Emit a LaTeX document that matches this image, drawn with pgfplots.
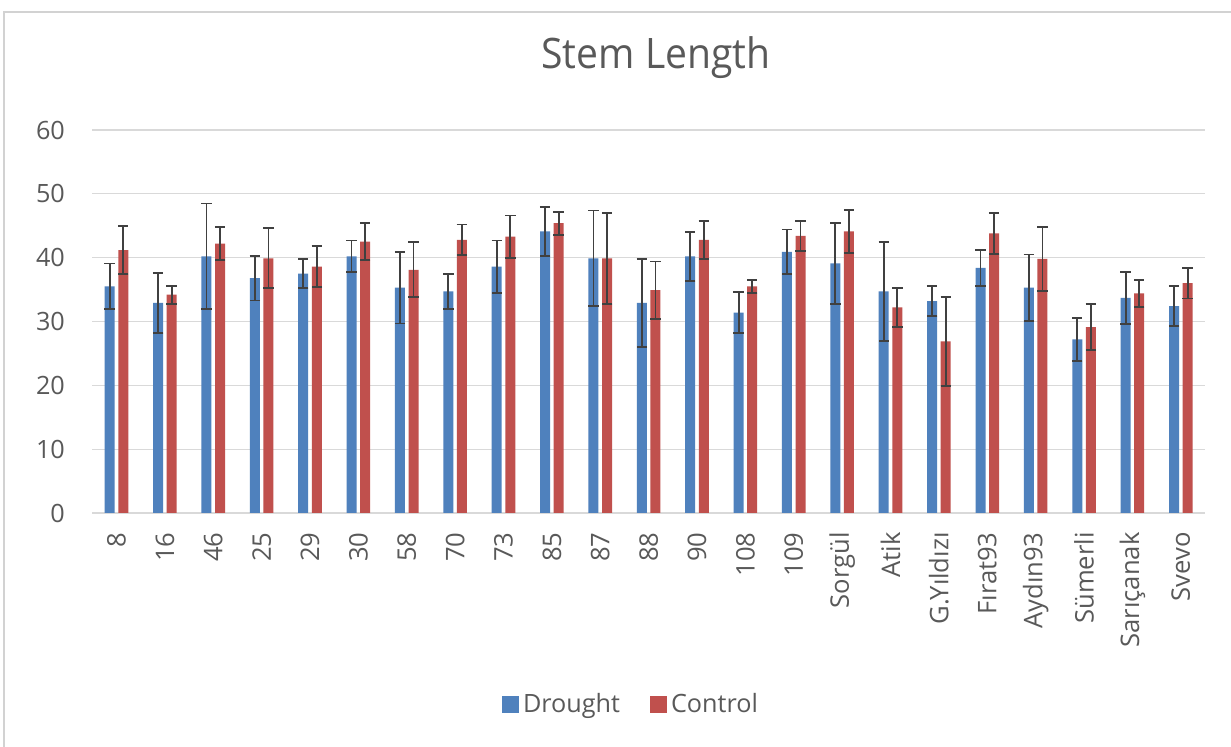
\documentclass[border=0pt]{standalone}
\usepackage{pgfplots}
\pgfplotsset{compat=1.18}
\usepackage{pgfplotstable}
\usepackage{fontspec}
\setmainfont{Open Sans}
\newfontfamily\titlefont[FakeStretch=0.93]{Open Sans}
\definecolor{dblue}{HTML}{4F81BD}
\definecolor{dred}{HTML}{C0504D}
\definecolor{txt}{HTML}{595959}
\definecolor{gridc}{HTML}{D9D9D9}
\definecolor{errc}{HTML}{404040}
\pgfplotstableread{
x d de c ce
0 35.5 3.6 41.2 3.7
1 32.9 4.7 34.2 1.4
2 40.2 8.3 42.2 2.6
3 36.8 3.5 39.9 4.7
4 37.5 2.3 38.6 3.2
5 40.2 2.5 42.5 2.9
6 35.3 5.6 38.1 4.3
7 34.7 2.7 42.8 2.4
8 38.6 4.1 43.3 3.3
9 44.1 3.8 45.4 1.8
10 39.9 7.5 39.9 7.1
11 32.9 6.9 34.9 4.5
12 40.2 3.8 42.8 3.0
13 31.4 3.2 35.5 1.0
14 40.9 3.5 43.4 2.3
15 39.1 6.3 44.1 3.4
16 34.7 7.8 32.2 3.0
17 33.2 2.4 26.9 7.0
18 38.4 2.8 43.8 3.2
19 35.3 5.2 39.8 5.0
20 27.2 3.4 29.1 3.6
21 33.7 4.1 34.4 2.1
22 32.4 3.1 36.0 2.4
}\datatable
\begin{document}
\begin{tikzpicture}
\path[use as bounding box] (0,0) rectangle (615.5pt,373.5pt);
\fill[white] (0,0) rectangle (615.5pt,373.5pt);
\draw[gray!35, line width=1pt] (2pt,-5pt) -- (2pt,367.5pt) -- (620pt,367.5pt);
\begin{axis}[
  at={(46.15pt,117pt)}, anchor=south west,
  scale only axis, width=556.35pt, height=191.5pt,
  xmin=-0.5, xmax=22.5, ymin=0, ymax=60,
  ytick={0,10,...,60},
  xtick={0,...,22},
  xticklabels={8,16,46,25,29,30,58,70,73,85,87,88,90,108,109,Sorgül,Atik,G.Yıldızı,Fırat93,Aydın93,Sümerli,Sarıçanak,Svevo},
  ymajorgrids, grid style={gridc, line width=0.6pt},
  axis line style={draw=none},
  major tick length=0pt,
  tick style={draw=none},
  /pgf/number format/assume math mode=true,
  x tick label style={rotate=90, anchor=east, font=\fontsize{12.8}{14}\selectfont, text=txt, inner sep=0pt},
  xticklabel shift=9.5pt,
  y tick label style={font=\fontsize{12.6}{14}\selectfont, text=txt, inner sep=0pt},
  yticklabel shift=13.5pt,
  ybar=1.8pt, bar width=5pt,
  title={Stem Length},
  title style={at={(0.5065,1.1305)}, anchor=base, yshift=0pt, font=\titlefont\fontsize{21}{24}\selectfont, text=txt},
  legend columns=2,
  legend style={at={(0.485,-0.501)}, anchor=center, draw=none, fill=none, font=\fontsize{12.6}{14}\selectfont, text=txt,
    /tikz/every even column/.append style={column sep=13pt}},
  error bars/error bar style={errc, line width=0.9pt},
  error bars/error mark options={rotate=90, errc, mark size=2.6pt, line width=0.9pt},
]
\addplot[fill=dblue, draw=none,
  legend image code/.code={\fill[dblue] (0pt,-4.25pt) rectangle (8.5pt,4.25pt);},
  error bars/.cd, y dir=both, y explicit]
  table[x=x, y=d, y error=de] {\datatable};
\addlegendentry{Drought}
\addplot[fill=dred, draw=none,
  legend image code/.code={\fill[dred] (0pt,-4.25pt) rectangle (8.5pt,4.25pt);},
  error bars/.cd, y dir=both, y explicit]
  table[x=x, y=c, y error=ce] {\datatable};
\addlegendentry{Control}
\end{axis}
\end{tikzpicture}
\end{document}
